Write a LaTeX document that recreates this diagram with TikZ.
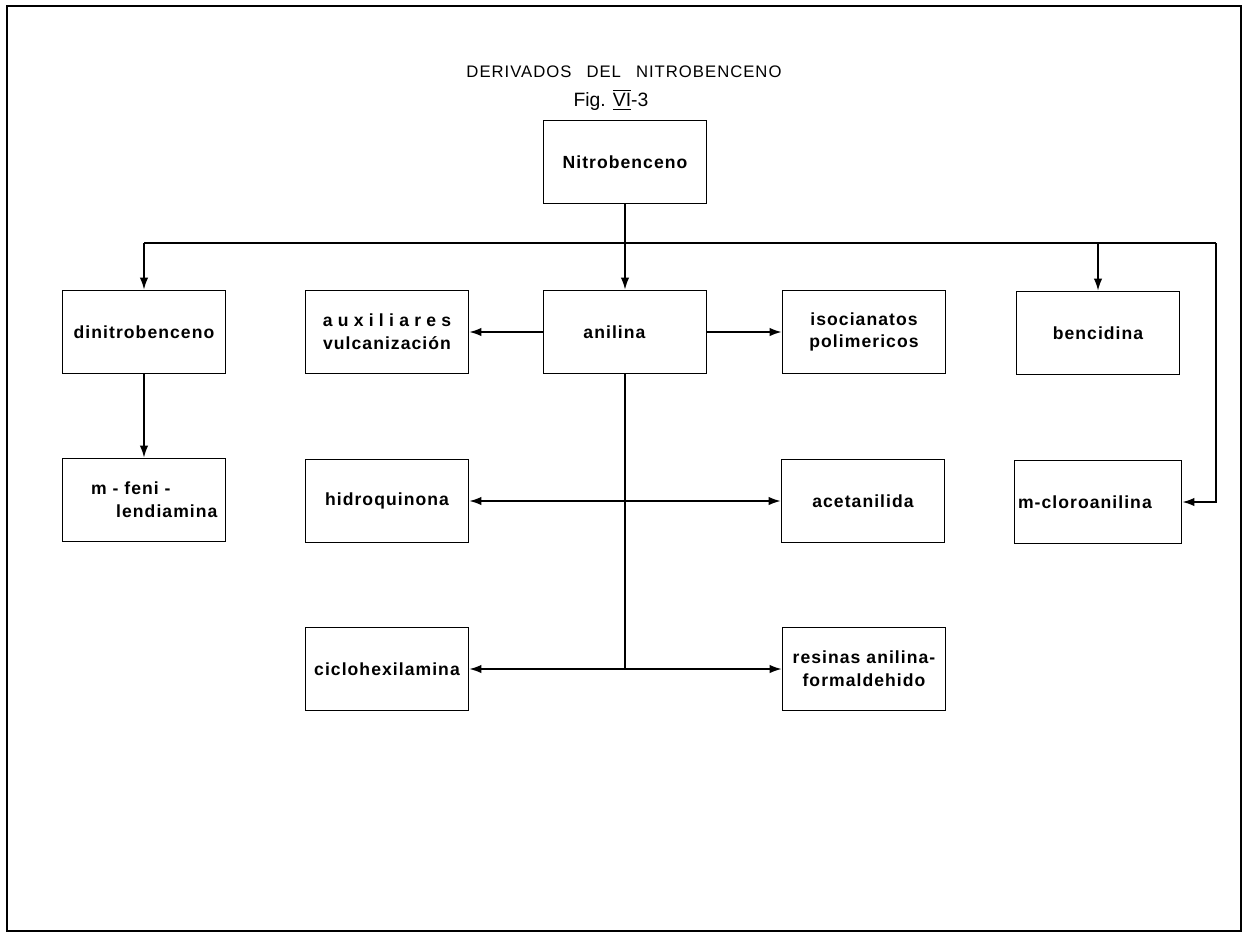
\documentclass[tikz,border=0pt]{standalone}
\usepackage{fontspec}
\setmainfont{Liberation Sans}
\usetikzlibrary{
  positioning,
  arrows.meta
}

\begin{document}
\begin{tikzpicture}[
  x=0.02cm, y=-0.02cm,
  every node/.style={font=\fontsize{10}{13}\selectfont\bfseries\addfontfeature{LetterSpace=6}, align=center, inner sep=2pt},
  box/.style={
    rectangle, draw, line width=1.1pt,
    minimum width=3.26cm, minimum height=1.66cm
  },
  link/.style={line width=0.8pt},
  arrow/.style={-{Latex[length=2.4mm,width=1.7mm]}, line width=0.8pt}
]
 \useasboundingbox (0,0) rectangle (1243,933);
 \draw[line width=1.2pt] (7,6) rectangle (1241,931);

 % Title
 \node[font=\fontsize{9.5}{12}\selectfont\addfontfeature{LetterSpace=6}] (title) at (624,72)
  {DERIVADOS\hspace{0.9em}DEL\hspace{0.9em}NITROBENCENO};
 \node[font=\fontsize{11}{13}\selectfont] (fig) at (611,100)
  {Fig. $\overline{\underline{\hbox{VI}}}$-3};

 % Top: raw material
 \node[box] (nitro) at (625,162) {Nitrobenceno};

 % First row of derivatives
 \node[box] (dinitro) at (144,332) {dinitrobenceno};
 \node[box] (aux) at (387,332)
  {{\addfontfeature{LetterSpace=30}auxiliares}\\vulcanización};
 \node[box] (anilina) at (625,332) {anilina\hspace*{1.2em}};
 \node[box] (isoc) at (864,332) {isocianatos\\polimericos};
 \node[box] (benc) at (1098,333) {bencidina};

 % Second row
 \node[box] (mfenil) at (144,500) {m - feni -\hspace*{1.5em}\\\hspace*{2.6em}lendiamina};
 \node[box] (hidro) at (387,501) {hidroquinona};
 \node[box] (acet) at (863,501) {acetanilida};
 \node[box, text width=3.2cm, align=left] (mcloro) at (1098,502) {m-cloroanilina};

 % Third row
 \node[box] (ciclo) at (387,669) {ciclohexilamina};
 \node[box] (resinas) at (864,669) {resinas anilina-\\formaldehido};

 % Distribution line under Nitrobenceno
 \coordinate (bus) at (625,243);
 \coordinate (busR) at (1216,243);
 \draw[arrow] (nitro) -- (anilina);
 \draw[link] (bus -| dinitro) -- (busR);
 \draw[arrow] (bus -| dinitro) -- (dinitro);
 \draw[arrow] (bus -| benc) -- (benc);
 \draw[arrow] (busR) |- (mcloro);
 \draw[arrow] (dinitro) -- (mfenil);

 % Branches from anilina
 \draw[arrow] (anilina) -- (aux);
 \draw[arrow] (anilina) -- (isoc);
 \coordinate (mid) at (anilina |- hidro);
 \coordinate (low) at (anilina |- ciclo);
 \draw[link] (anilina) -- (low);
 \draw[arrow] (mid) -- (hidro);
 \draw[arrow] (mid) -- (acet);
 \draw[arrow] (low) -- (ciclo);
 \draw[arrow] (low) -- (resinas);
\end{tikzpicture}
\end{document}
